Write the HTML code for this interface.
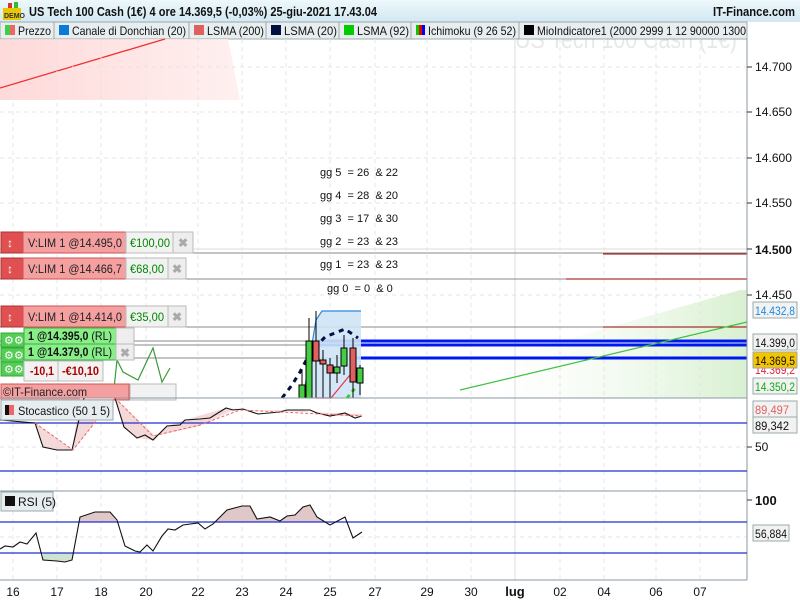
<!DOCTYPE html>
<html><head><meta charset="utf-8"><style>
body{margin:0;width:800px;height:600px;overflow:hidden;font-family:"Liberation Sans",sans-serif;background:#fff}
svg{display:block}
.pre{white-space:pre}
</style></head><body>
<svg width="800" height="600" viewBox="0 0 800 600" font-family="Liberation Sans, sans-serif">
<defs>
<linearGradient id="hd" x1="0" y1="0" x2="0" y2="1"><stop offset="0" stop-color="#eef8fc"/><stop offset="1" stop-color="#d2e8f2"/></linearGradient>
<linearGradient id="rg" x1="0" y1="0" x2="1" y2="0"><stop offset="0" stop-color="#ffd0d0"/><stop offset="1" stop-color="#ffecec"/></linearGradient>
<linearGradient id="gg" x1="1" y1="0" x2="0" y2="0"><stop offset="0" stop-color="#d8f0d0"/><stop offset="1" stop-color="#ffffff" stop-opacity="0"/></linearGradient>
</defs>
<rect width="800" height="600" fill="#fff"/>
<!-- watermark -->
<text x="515" y="48" font-size="26" fill="#e8e8e8" textLength="222" lengthAdjust="spacingAndGlyphs">US Tech 100 Cash (1€)</text>
<!-- header -->
<rect x="0" y="0" width="800" height="22" fill="url(#hd)"/>
<rect x="3" y="8" width="18" height="12" fill="#e8c800"/><text x="4" y="18" font-size="7" font-weight="bold" fill="#333">DEMO</text>
<rect x="8" y="3" width="4" height="5" fill="#d33"/><rect x="14" y="2" width="4" height="6" fill="#3b3"/>
<text x="29" y="16" font-size="13" font-weight="bold" fill="#111" textLength="348" lengthAdjust="spacingAndGlyphs">US Tech 100 Cash (1€) 4 ore 14.369,5 (-0,03%) 25-giu-2021 17.43.04</text>
<text x="713" y="16" font-size="13" font-weight="bold" fill="#111" textLength="82" lengthAdjust="spacingAndGlyphs">IT-Finance.com</text>
<!-- legend bar -->
<rect x="0" y="22" width="747" height="17" fill="#e8edf0" stroke="#9aa" stroke-width="1"/>
<g font-size="12" fill="#111">
<rect x="5" y="25" width="5" height="10" fill="#4c4"/><rect x="10" y="25" width="5" height="10" fill="#e66"/><text x="18" y="35" textLength="33" lengthAdjust="spacingAndGlyphs">Prezzo</text>
<line x1="54" y1="22" x2="54" y2="39" stroke="#9aa"/>
<rect x="59" y="25" width="10" height="10" fill="#0a7ad8"/><text x="72" y="35" textLength="114" lengthAdjust="spacingAndGlyphs">Canale di Donchian (20)</text>
<line x1="189" y1="22" x2="189" y2="39" stroke="#9aa"/>
<rect x="194" y="25" width="10" height="10" fill="#e06060"/><text x="207" y="35" textLength="57" lengthAdjust="spacingAndGlyphs">LSMA (200)</text>
<line x1="266" y1="22" x2="266" y2="39" stroke="#9aa"/>
<rect x="271" y="25" width="10" height="10" fill="#001040"/><text x="284" y="35" textLength="53" lengthAdjust="spacingAndGlyphs">LSMA (20)</text>
<line x1="339" y1="22" x2="339" y2="39" stroke="#9aa"/>
<rect x="344" y="25" width="10" height="10" fill="#0c0"/><text x="357" y="35" textLength="52" lengthAdjust="spacingAndGlyphs">LSMA (92)</text>
<line x1="411" y1="22" x2="411" y2="39" stroke="#9aa"/>
<rect x="416" y="25" width="3" height="10" fill="#0c0"/><rect x="419" y="25" width="3" height="10" fill="#e00"/><rect x="422" y="25" width="3" height="10" fill="#00e"/><text x="428" y="35" textLength="88" lengthAdjust="spacingAndGlyphs">Ichimoku (9 26 52)</text>
<line x1="519" y1="22" x2="519" y2="39" stroke="#9aa"/>
<rect x="524" y="25" width="10" height="10" fill="#000"/><text x="537" y="35" textLength="209" lengthAdjust="spacingAndGlyphs">MioIndicatore1 (2000 2999 1 12 90000 1300</text>
</g>
<!-- red gradient region -->
<polygon points="0,39 228,39 240,100 0,100" fill="url(#rg)" opacity="0.8"/>
<line x1="0" y1="88" x2="165" y2="39" stroke="#f03030" stroke-width="1.3"/>
<!-- green gradient -->
<polygon points="747,290 747,398 460,398 460,370 740,290" fill="url(#gg)"/>
<!-- grid -->
<g stroke="#e4e4e4" stroke-dasharray="4,4">
<line x1="13" y1="39" x2="13" y2="580"/><line x1="57" y1="39" x2="57" y2="580"/><line x1="101" y1="39" x2="101" y2="580"/><line x1="146" y1="39" x2="146" y2="580"/><line x1="198" y1="39" x2="198" y2="580"/><line x1="242" y1="39" x2="242" y2="580"/><line x1="286" y1="39" x2="286" y2="580"/><line x1="330" y1="39" x2="330" y2="580"/><line x1="375" y1="39" x2="375" y2="580"/><line x1="427" y1="39" x2="427" y2="580"/><line x1="471" y1="39" x2="471" y2="580"/><line x1="560" y1="39" x2="560" y2="580"/><line x1="604" y1="39" x2="604" y2="580"/><line x1="656" y1="39" x2="656" y2="580"/><line x1="700" y1="39" x2="700" y2="580"/>
<line x1="0" y1="67" x2="747" y2="67"/><line x1="0" y1="112" x2="747" y2="112"/><line x1="0" y1="158" x2="747" y2="158"/><line x1="0" y1="203" x2="747" y2="203"/><line x1="0" y1="295" x2="747" y2="295"/>
<line x1="0" y1="447" x2="747" y2="447"/><line x1="0" y1="537" x2="747" y2="537"/>
</g>
<line x1="515" y1="39" x2="515" y2="580" stroke="#ddd"/>
<line x1="0" y1="249" x2="747" y2="249" stroke="#ddd"/>
<!-- gg text -->
<g font-size="11" fill="#111" class="pre">
<text x="320" y="176" class="pre">gg 5  = 26  &amp; 22</text>
<text x="320" y="199" class="pre">gg 4  = 28  &amp; 20</text>
<text x="320" y="222" class="pre">gg 3  = 17  &amp; 30</text>
<text x="320" y="245" class="pre">gg 2  = 23  &amp; 23</text>
<text x="320" y="268" class="pre">gg 1  = 23  &amp; 23</text>
<text x="327" y="292" class="pre">gg 0  = 0  &amp; 0</text>
</g>
<!-- horizontal order lines -->
<g stroke="#888" stroke-width="1">
<line x1="0" y1="253" x2="747" y2="253"/><line x1="0" y1="279" x2="747" y2="279"/><line x1="0" y1="327" x2="747" y2="327"/><line x1="0" y1="341" x2="747" y2="341"/><line x1="0" y1="345" x2="747" y2="345"/><line x1="0" y1="358" x2="747" y2="358"/>
</g>
<g stroke="#900" stroke-width="1"><line x1="603" y1="254" x2="747" y2="254"/><line x1="566" y1="279" x2="747" y2="279"/><line x1="603" y1="327" x2="747" y2="327"/></g>
<g stroke="#0018f0" stroke-width="3"><line x1="316" y1="341" x2="747" y2="341"/><line x1="316" y1="345" x2="747" y2="345"/><line x1="353" y1="358" x2="747" y2="358"/></g>
<line x1="460" y1="390" x2="747" y2="322" stroke="#40c040" stroke-width="1.2"/>
<!-- donchian -->
<polygon points="303,398 316,320 322,311 361,311 361,398" fill="#cfe4f6" opacity="0.9"/>
<polyline points="303,398 316,320 322,311 361,311" fill="none" stroke="#2a8ae0" stroke-width="1.2"/>
<polyline points="316,398 331,398 350,375 357,369" fill="none" stroke="#f03050" stroke-width="1.2"/>
<polyline points="282,398 292,385 300,372 310,353 325,337 345,329 358,338" fill="none" stroke="#001040" stroke-width="3" stroke-dasharray="5,5"/>
<line x1="347" y1="398" x2="356" y2="387" stroke="#30d030" stroke-width="3" stroke-dasharray="4,4"/>
<!-- candles -->
<g stroke="#000" stroke-width="1">
<line x1="309" y1="318" x2="309" y2="398"/><rect x="306" y="341" width="6" height="57" fill="#4c4"/>
<line x1="316" y1="311" x2="316" y2="398"/><rect x="313" y="341" width="6" height="20" fill="#e06060"/>
<line x1="323" y1="350" x2="323" y2="398"/><rect x="320" y="360" width="6" height="4" fill="#e06060"/>
<line x1="330" y1="358" x2="330" y2="398"/><rect x="327" y="365" width="6" height="8" fill="#e06060"/>
<line x1="337" y1="355" x2="337" y2="383"/><rect x="334" y="367" width="6" height="6" fill="#4c4"/>
<line x1="344" y1="335" x2="344" y2="375"/><rect x="341" y="348" width="6" height="18" fill="#4c4"/>
<line x1="353" y1="338" x2="353" y2="398"/><rect x="350" y="348" width="6" height="34" fill="#e06060"/>
<line x1="360" y1="365" x2="360" y2="395"/><rect x="357" y="368" width="6" height="15" fill="#4c4"/>
<line x1="302" y1="370" x2="302" y2="398"/><rect x="299" y="385" width="6" height="13" fill="#4c4"/>
</g>
<polyline points="113,398 117,360 123,372 138,380 153,348 162,382 170,368" fill="none" stroke="#3a9a3a" stroke-width="1.2"/>
<!-- order widgets -->
<g font-size="12">
<g><rect x="1" y="232" width="22" height="21" fill="#e05050" stroke="#a33"/><text x="7" y="247" fill="#fff" font-weight="bold">↕</text>
<rect x="23" y="232" width="103" height="21" fill="#f4a0a0" stroke="#c55"/><text x="28" y="247" fill="#222" textLength="94" lengthAdjust="spacingAndGlyphs">V:LIM  1 @14.495,0</text>
<rect x="126" y="232" width="47" height="21" fill="#f2f2f2" stroke="#bbb"/><text x="130" y="247" fill="#080" textLength="40" lengthAdjust="spacingAndGlyphs">€100,00</text>
<rect x="173" y="232" width="20" height="21" fill="#eee" stroke="#bbb"/><text x="178" y="247" fill="#aaa" font-weight="bold">✖</text></g>
<g><rect x="1" y="258" width="22" height="21" fill="#e05050" stroke="#a33"/><text x="7" y="273" fill="#fff" font-weight="bold">↕</text>
<rect x="23" y="258" width="103" height="21" fill="#f4a0a0" stroke="#c55"/><text x="28" y="273" fill="#222" textLength="94" lengthAdjust="spacingAndGlyphs">V:LIM  1 @14.466,7</text>
<rect x="126" y="258" width="42" height="21" fill="#f2f2f2" stroke="#bbb"/><text x="130" y="273" fill="#080" textLength="34" lengthAdjust="spacingAndGlyphs">€68,00</text>
<rect x="168" y="258" width="18" height="21" fill="#eee" stroke="#bbb"/><text x="172" y="273" fill="#aaa" font-weight="bold">✖</text></g>
<g><rect x="1" y="306" width="22" height="21" fill="#e05050" stroke="#a33"/><text x="7" y="321" fill="#fff" font-weight="bold">↕</text>
<rect x="23" y="306" width="103" height="21" fill="#f4a0a0" stroke="#c55"/><text x="28" y="321" fill="#222" textLength="94" lengthAdjust="spacingAndGlyphs">V:LIM  1 @14.414,0</text>
<rect x="126" y="306" width="42" height="21" fill="#f2f2f2" stroke="#bbb"/><text x="130" y="321" fill="#080" textLength="34" lengthAdjust="spacingAndGlyphs">€35,00</text>
<rect x="168" y="306" width="18" height="21" fill="#eee" stroke="#bbb"/><text x="172" y="321" fill="#aaa" font-weight="bold">✖</text></g>
<rect x="1" y="333" width="24" height="14" fill="#5c5" stroke="#3a3"/><rect x="1" y="348" width="24" height="14" fill="#5c5" stroke="#3a3"/><rect x="1" y="362" width="24" height="14" fill="#5c5" stroke="#3a3"/>
<text x="4" y="344" fill="#fff" font-size="11">⚙⚙</text><text x="4" y="359" fill="#fff" font-size="11">⚙⚙</text><text x="4" y="373" fill="#fff" font-size="11">⚙⚙</text>
<rect x="24" y="328" width="92" height="16" fill="#8e8" stroke="#4a4"/><text x="28" y="340" fill="#111" textLength="84" lengthAdjust="spacingAndGlyphs"><tspan font-weight="bold">1 @14.395,0</tspan> (RL)</text>
<rect x="116" y="328" width="18" height="16" fill="#eee" stroke="#bbb"/>
<rect x="24" y="344" width="92" height="16" fill="#8e8" stroke="#4a4"/><text x="28" y="356" fill="#111" textLength="84" lengthAdjust="spacingAndGlyphs"><tspan font-weight="bold">1 @14.379,0</tspan> (RL)</text>
<rect x="116" y="344" width="18" height="16" fill="#eee" stroke="#bbb"/><text x="120" y="357" fill="#aaa" font-weight="bold">✖</text>
<rect x="24" y="361" width="34" height="20" fill="#f2f2f2" stroke="#bbb"/><text x="30" y="375" fill="#a00" font-weight="bold" textLength="24" lengthAdjust="spacingAndGlyphs">-10,1</text>
<rect x="58" y="361" width="45" height="20" fill="#f2f2f2" stroke="#bbb"/><text x="62" y="375" fill="#a00" font-weight="bold" textLength="37" lengthAdjust="spacingAndGlyphs">-€10,10</text>
<rect x="1" y="384" width="128" height="16" fill="#f4a0a0" stroke="#c55"/><rect x="130" y="384" width="46" height="16" fill="#f2f2f2" stroke="#bbb"/>
<text x="3" y="396" fill="#222" font-size="12" textLength="84" lengthAdjust="spacingAndGlyphs">©IT-Finance.com</text>
</g>
<!-- panel borders -->
<line x1="0" y1="398" x2="747" y2="398" stroke="#8a9aa6"/>
<line x1="0" y1="491" x2="747" y2="491" stroke="#8a9aa6"/>
<line x1="0" y1="580" x2="747" y2="580" stroke="#8a9aa6"/>
<line x1="747" y1="39" x2="747" y2="580" stroke="#8a9aa6"/>
<!-- stochastic -->
<polygon points="0,416 35,423 43,447 57,450 72,450 80,398 115,398 124,427 137,438 153,440 167,426 185,420 226,408 250,410 362,414 362,416 330,416 300,410 250,410 233,410 200,426 155,436 115,398 73,450 35,423" fill="#f0d0d0" opacity="0.8"/>
<line x1="0" y1="423" x2="747" y2="423" stroke="#2030d0" stroke-width="1.2"/>
<line x1="0" y1="471" x2="747" y2="471" stroke="#2030d0" stroke-width="1.2"/>
<polyline points="0,420 35,423 43,447 57,450 72,450 80,415 84,398" fill="none" stroke="#111" stroke-width="1.1"/>
<polyline points="115,398 124,427 137,438 145,435 153,440 167,426 180,425 185,420 200,419 210,418 226,408 233,410 243,409 258,414 280,412 287,410 310,410 317,413 330,416 345,413 355,418 362,416" fill="none" stroke="#111" stroke-width="1.1"/>
<polyline points="35,423 73,450 105,410 115,398" fill="none" stroke="#e66" stroke-dasharray="3,2"/>
<polyline points="115,398 153,436 200,425 240,410 362,416" fill="none" stroke="#e66" stroke-dasharray="3,2"/>
<rect x="1" y="400" width="112" height="20" fill="#e8edf0" stroke="#9aa"/><rect x="5" y="405" width="4" height="10" fill="#111"/><rect x="9" y="405" width="5" height="10" fill="#e66"/><text x="18" y="415" font-size="12" fill="#111" textLength="92" lengthAdjust="spacingAndGlyphs">Stocastico (50 1 5)</text>
<!-- RSI -->
<polygon points="80,522 80,517 95,512 110,512 117,522" fill="#e0c8c8"/>
<polygon points="215,522 227,510 242,506 250,506 257,519 270,517 280,521 287,516 295,515 303,507 310,505 317,517 325,522" fill="#e0c8c8"/>
<polygon points="43,553 43,560 57,561 65,562 72,560 74,553" fill="#cfe4cf"/>
<line x1="0" y1="522" x2="747" y2="522" stroke="#2030d0" stroke-width="1.2"/>
<line x1="0" y1="553" x2="747" y2="553" stroke="#2030d0" stroke-width="1.2"/>
<polyline points="0,549 5,546 13,547 20,542 27,544 36,533 43,560 57,561 65,562 72,560 80,517 95,512 110,512 117,520 125,546 135,551 140,552 147,545 153,551 162,536 168,529 175,530 183,525 198,523 205,529 213,524 227,510 242,506 250,506 257,519 270,517 280,521 287,516 295,515 303,507 310,505 317,517 330,525 345,517 353,538 362,532" fill="none" stroke="#111" stroke-width="1.1"/>
<rect x="1" y="492" width="52" height="19" fill="#e8edf0" stroke="#9aa"/><rect x="5" y="496" width="10" height="10" fill="#111"/><text x="18" y="506" font-size="12" fill="#111">RSI (5)</text>
<!-- right axis -->
<g font-size="12" fill="#111">
<line x1="747" y1="67" x2="752" y2="67" stroke="#333"/><text x="755" y="71" textLength="37" lengthAdjust="spacingAndGlyphs">14.700</text>
<line x1="747" y1="112" x2="752" y2="112" stroke="#333"/><text x="755" y="116" textLength="37" lengthAdjust="spacingAndGlyphs">14.650</text>
<line x1="747" y1="158" x2="752" y2="158" stroke="#333"/><text x="755" y="162" textLength="37" lengthAdjust="spacingAndGlyphs">14.600</text>
<line x1="747" y1="203" x2="752" y2="203" stroke="#333"/><text x="755" y="207" textLength="37" lengthAdjust="spacingAndGlyphs">14.550</text>
<line x1="747" y1="249" x2="752" y2="249" stroke="#333"/><text x="755" y="254" font-weight="bold" textLength="37" lengthAdjust="spacingAndGlyphs">14.500</text>
<line x1="747" y1="295" x2="752" y2="295" stroke="#333"/><text x="755" y="299" textLength="37" lengthAdjust="spacingAndGlyphs">14.450</text>
<line x1="747" y1="447" x2="752" y2="447" stroke="#333"/><text x="755" y="451">50</text>
<line x1="747" y1="500" x2="752" y2="500" stroke="#333"/><text x="755" y="505" font-weight="bold" font-size="13">100</text>
</g>
<g font-size="12">
<rect x="753" y="302" width="44" height="16" fill="#f2f2f2" stroke="#9aa"/><text x="755" y="315" fill="#1a8ae0" textLength="40" lengthAdjust="spacingAndGlyphs">14.432,8</text>
<rect x="753" y="334" width="44" height="16" fill="#f2f2f2" stroke="#9aa"/><text x="755" y="347" fill="#111" textLength="40" lengthAdjust="spacingAndGlyphs">14.399,0</text>
<text x="755" y="374" fill="#e02040" textLength="40" lengthAdjust="spacingAndGlyphs">14.369,2</text>
<rect x="753" y="352" width="44" height="16" fill="#f5c400" stroke="#9aa"/><text x="755" y="365" fill="#111" textLength="40" lengthAdjust="spacingAndGlyphs">14.369,5</text>
<rect x="753" y="378" width="44" height="16" fill="#f2f2f2" stroke="#9aa"/><text x="755" y="391" fill="#1a1" textLength="40" lengthAdjust="spacingAndGlyphs">14.350,2</text>
<rect x="753" y="401" width="44" height="16" fill="#f2f2f2" stroke="#9aa"/><text x="755" y="414" fill="#e06060" textLength="34" lengthAdjust="spacingAndGlyphs">89,497</text>
<rect x="753" y="417" width="44" height="16" fill="#f2f2f2" stroke="#9aa"/><text x="755" y="430" fill="#111" textLength="34" lengthAdjust="spacingAndGlyphs">89,342</text>
<rect x="753" y="525" width="36" height="16" fill="#f2f2f2" stroke="#9aa"/><text x="755" y="538" fill="#111" textLength="32" lengthAdjust="spacingAndGlyphs">56,884</text>
</g>
<!-- bottom axis -->
<g font-size="12" fill="#111" text-anchor="middle">
<text x="13" y="596">16</text><text x="57" y="596">17</text><text x="101" y="596">18</text><text x="146" y="596">20</text><text x="198" y="596">22</text><text x="242" y="596">23</text><text x="286" y="596">24</text><text x="330" y="596">25</text><text x="375" y="596">27</text><text x="427" y="596">29</text><text x="471" y="596">30</text><text x="515" y="596" font-weight="bold" font-size="13">lug</text><text x="560" y="596">02</text><text x="604" y="596">04</text><text x="656" y="596">06</text><text x="700" y="596">07</text>
</g>
</svg>
</body></html>
